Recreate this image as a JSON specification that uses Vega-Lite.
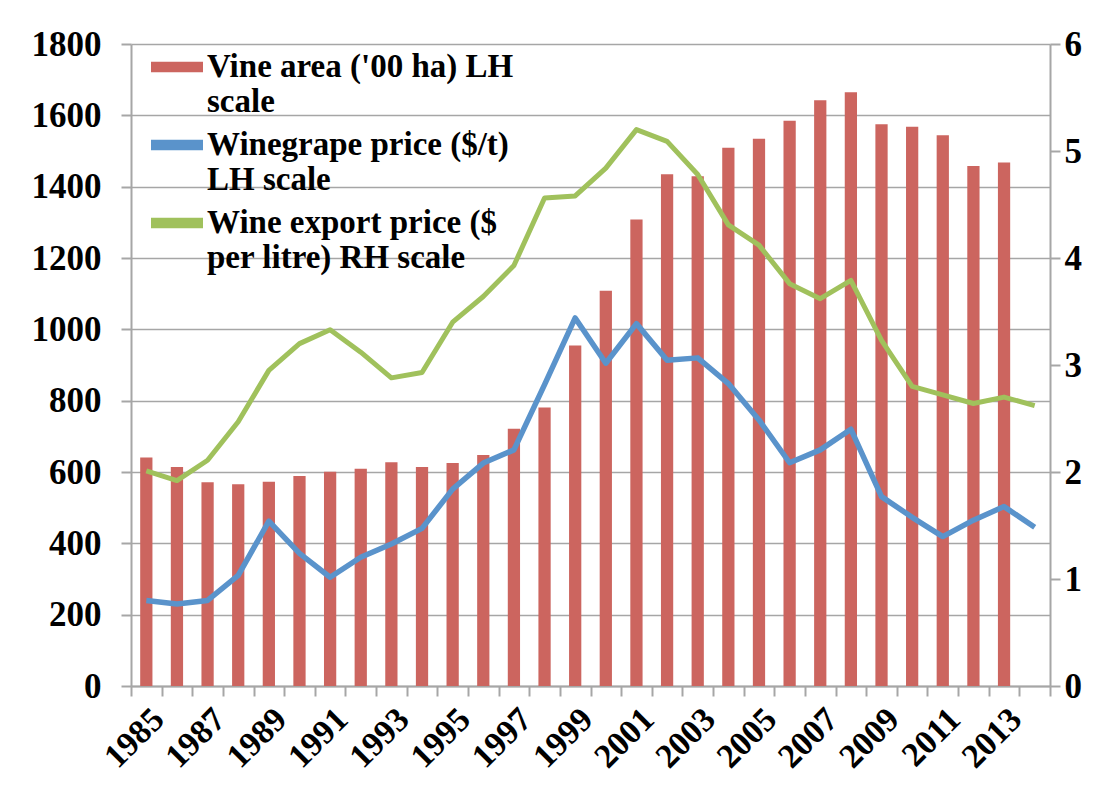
{
  "$schema": "https://vega.github.io/schema/vega-lite/v6.json",
  "width": 919,
  "height": 642,
  "autosize": "none",
  "padding": {"left": 131, "top": 44, "right": 59, "bottom": 113},
  "background": "white",
  "config": {
    "view": {"stroke": null},
    "font": "Liberation Serif",
    "axis": {
      "labelFont": "Liberation Serif",
      "labelFontWeight": "bold",
      "labelColor": "black",
      "domainColor": "#A6A6A6",
      "domainWidth": 2,
      "tickColor": "#A6A6A6",
      "tickWidth": 2,
      "gridColor": "#A6A6A6",
      "gridWidth": 1.5,
      "title": null
    }
  },
  "data": {
    "values": [
      {"year": "1985", "vine": 641, "grape": 240, "export": 2.01},
      {"year": "1986", "vine": 614, "grape": 230, "export": 1.92},
      {"year": "1987", "vine": 571, "grape": 240, "export": 2.11},
      {"year": "1988", "vine": 566, "grape": 310, "export": 2.47},
      {"year": "1989", "vine": 573, "grape": 462, "export": 2.95},
      {"year": "1990", "vine": 589, "grape": 372, "export": 3.2},
      {"year": "1991", "vine": 601, "grape": 305, "export": 3.33},
      {"year": "1992", "vine": 609, "grape": 361, "export": 3.12},
      {"year": "1993", "vine": 627, "grape": 398, "export": 2.88},
      {"year": "1994", "vine": 614, "grape": 442, "export": 2.93},
      {"year": "1995", "vine": 625, "grape": 552, "export": 3.4},
      {"year": "1996", "vine": 648, "grape": 625, "export": 3.64},
      {"year": "1997", "vine": 721, "grape": 662, "export": 3.93},
      {"year": "1998", "vine": 781, "grape": 845, "export": 4.56},
      {"year": "1999", "vine": 955, "grape": 1032, "export": 4.58},
      {"year": "2000", "vine": 1108, "grape": 905, "export": 4.84},
      {"year": "2001", "vine": 1308, "grape": 1016, "export": 5.2},
      {"year": "2002", "vine": 1435, "grape": 913, "export": 5.09},
      {"year": "2003", "vine": 1429, "grape": 920, "export": 4.78},
      {"year": "2004", "vine": 1509, "grape": 848, "export": 4.31},
      {"year": "2005", "vine": 1534, "grape": 746, "export": 4.12},
      {"year": "2006", "vine": 1585, "grape": 626, "export": 3.76},
      {"year": "2007", "vine": 1642, "grape": 662, "export": 3.62},
      {"year": "2008", "vine": 1665, "grape": 720, "export": 3.79},
      {"year": "2009", "vine": 1575, "grape": 531, "export": 3.23},
      {"year": "2010", "vine": 1568, "grape": 473, "export": 2.8},
      {"year": "2011", "vine": 1544, "grape": 419, "export": 2.72},
      {"year": "2012", "vine": 1458, "grape": 465, "export": 2.64},
      {"year": "2013", "vine": 1468, "grape": 503, "export": 2.7},
      {"year": "2014", "vine": null, "grape": 445, "export": 2.62}
    ]
  },
  "encoding": {
    "x": {
      "field": "year",
      "type": "ordinal",
      "scale": {"paddingInner": 0, "paddingOuter": 0},
      "axis": {
        "labelAngle": -45,
        "labelFontSize": 34,
        "labelExpr": "toNumber(datum.value) % 2 == 1 ? datum.value : ''",
        "tickBand": "extent",
        "tickSize": 10,
        "labelPadding": 6,
        "labelBound": false,
        "labelOverlap": false
      }
    }
  },
  "layer": [
    {
      "layer": [
        {
          "mark": {"type": "bar", "width": {"band": 0.4}},
          "encoding": {
            "y": {
              "field": "vine",
              "type": "quantitative",
              "scale": {"domain": [0, 1800], "nice": false},
              "axis": {
                "orient": "left",
                "values": [0, 200, 400, 600, 800, 1000, 1200, 1400, 1600, 1800],
                "format": "d",
                "labelFontSize": 35,
                "tickSize": 10,
                "labelPadding": 20,
                "grid": true
              }
            },
            "color": {
              "datum": "Vine area ('00 ha) LH|scale",
              "scale": {
                "domain": ["Vine area ('00 ha) LH|scale", "Winegrape price ($/t)|LH scale", "Wine export price  ($|per litre) RH scale"],
                "range": ["#CC655F", "#5A93CB", "#A0C15C"]
              },
              "legend": {
                "orient": "none",
                "legendX": 20,
                "legendY": -3,
                "title": null,
                "labelFont": "Liberation Serif",
                "labelFontWeight": "bold",
                "labelFontSize": 33,
                "labelColor": "black",
                "labelLimit": 600,
                "labelOffset": 4,
                "labelExpr": "split(datum.label, '|')",
                "symbolType": "M-1,-0.2H1V0.2H-1Z",
                "symbolSize": 2704,
                "symbolStrokeWidth": 0,
                "rowPadding": -21
              }
            }
          }
        },
        {
          "mark": {"type": "line", "strokeWidth": 5.5, "strokeJoin": "round"},
          "encoding": {
            "y": {"field": "grape", "type": "quantitative"},
            "color": {"datum": "Winegrape price ($/t)|LH scale"}
          }
        }
      ]
    },
    {
      "mark": {"type": "line", "strokeWidth": 5, "strokeJoin": "round"},
      "encoding": {
        "y": {
          "field": "export",
          "type": "quantitative",
          "scale": {"domain": [0, 6], "nice": false},
          "axis": {
            "orient": "right",
            "values": [0, 1, 2, 3, 4, 5, 6],
            "labelFontSize": 35,
            "tickSize": 10,
            "labelPadding": 4,
            "grid": false
          }
        },
        "color": {"datum": "Wine export price  ($|per litre) RH scale"}
      }
    }
  ],
  "resolve": {"scale": {"y": "independent"}}
}
